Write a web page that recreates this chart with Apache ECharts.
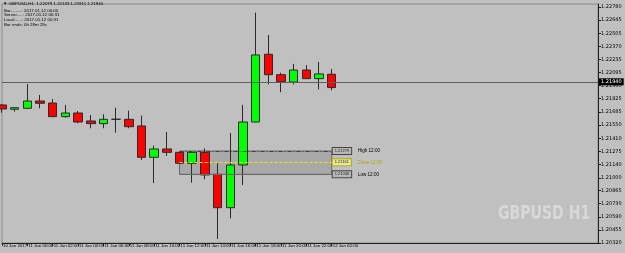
<!DOCTYPE html>
<html><head><meta charset="utf-8">
<script src="https://cdn.jsdelivr.net/npm/echarts@6/dist/echarts.min.js"></script>
<style>html,body{margin:0;padding:0;background:#c0c0c0}#c{width:625px;height:253px}</style>
</head><body><div id="c"></div>
<script>
// Hourly bar times (GBPUSD H1)
const barTimes = ['10 Jan 22:00','10 Jan 23:00','11 Jan 00:00','11 Jan 01:00','11 Jan 02:00','11 Jan 03:00','11 Jan 04:00','11 Jan 05:00','11 Jan 06:00','11 Jan 07:00','11 Jan 08:00','11 Jan 09:00','11 Jan 10:00','11 Jan 11:00','11 Jan 12:00','11 Jan 13:00','11 Jan 14:00','11 Jan 15:00','11 Jan 16:00','11 Jan 17:00','11 Jan 18:00','11 Jan 19:00','11 Jan 20:00','11 Jan 21:00','11 Jan 22:00','11 Jan 23:00','12 Jan 00:00'];
// OHLC
const opens  = [1.21759,1.21714,1.21724,1.21800,1.21779,1.21637,1.21675,1.21592,1.21564,1.21609,1.21609,1.21540,1.21213,1.21300,1.21265,1.21151,1.21265,1.21036,1.20688,1.21133,1.21581,1.22287,1.22074,1.21998,1.22123,1.22033,1.22079];
const highs  = [1.21769,1.21735,1.21977,1.21863,1.21821,1.21759,1.21696,1.21654,1.21662,1.21730,1.21699,1.21647,1.21334,1.21477,1.21269,1.21269,1.21305,1.21151,1.21467,1.21759,1.22721,1.22488,1.22095,1.22186,1.22175,1.22207,1.22133];
const lows   = [1.21678,1.21689,1.21720,1.21724,1.21633,1.21626,1.21568,1.21516,1.21516,1.21470,1.21516,1.21185,1.20945,1.21227,1.21147,1.20949,1.20984,1.20362,1.20577,1.20925,1.21578,1.21974,1.21891,1.21974,1.22030,1.21922,1.21911];
const closes = [1.21717,1.21730,1.21800,1.21776,1.21637,1.21675,1.21581,1.21564,1.21609,1.21610,1.21532,1.21213,1.21300,1.21265,1.21151,1.21265,1.21029,1.20688,1.21133,1.21581,1.22280,1.22074,1.22001,1.22123,1.22033,1.22082,1.21940];
// axis labels
const yTicks = [1.22780,1.22645,1.22505,1.22370,1.22235,1.22095,1.21960,1.21825,1.21685,1.21550,1.21410,1.21275,1.21140,1.21000,1.20865,1.20730,1.20590,1.20455,1.20320];
const xTickIdx  = [0,2,4,6,8,10,12,14,16,18,20,22,24,26];
const xTickText = ['10 Jan 2017','11 Jan 00:00','11 Jan 02:00','11 Jan 04:00','11 Jan 06:00','11 Jan 08:00','11 Jan 10:00','11 Jan 12:00','11 Jan 14:00','11 Jan 16:00','11 Jan 18:00','11 Jan 20:00','11 Jan 22:00','12 Jan 00:00'];
// price lines
const bidPrice = 1.21940;
const askPrice = 1.21974;
// 12:00 box levels
const boxHigh = 1.21279, boxClose = 1.21161, boxLow = 1.21036;
const boxFrom = 14, boxTo = 26.2;
const infoTitle = '\u25BC GBPUSD,H1  1.22079 1.22133 1.21911 1.21940';
const infoLines = ['Bar.........: 2017.01.12 00:00','Server.....: 2017.01.12 00:31','Local......: 2017.01.12 00:31','Bar ends: 0h 28m 29s'];

const totalSlots = 48;
const categories = barTimes.slice();
for (let i = barTimes.length; i < totalSlots; i++) categories.push('slot' + i);
const candleData = opens.map((o, i) => [o, closes[i], lows[i], highs[i]]);

const FONT = 'DejaVu Sans';
const SMALL = 'Liberation Sans';
const chart = echarts.init(document.getElementById('c'), null, {renderer: 'canvas'});
const showTick = (idx) => xTickIdx.indexOf(idx) >= 0;
const richBox = (bg, bd) => ({fontSize: 4, fontFamily: SMALL, color: '#222', backgroundColor: bg, borderColor: bd, borderWidth: 1, padding: [1, 2]});

chart.setOption({
  backgroundColor: '#c0c0c0',
  animation: false,
  grid: {left: 0, right: 27, top: 4, bottom: 10, show: true, borderColor: '#8a8a8a', borderWidth: 1, backgroundColor: 'transparent'},
  xAxis: {
    type: 'category', data: categories, boundaryGap: false,
    axisLine: {show: true, lineStyle: {color: '#202020', width: 1}},
    axisTick: {show: true, length: 3, interval: (i) => showTick(i), lineStyle: {color: '#202020'}},
    axisLabel: {show: true, interval: (i) => showTick(i), hideOverlap: false, showMinLabel: true, showMaxLabel: true, align: 'left', margin: 1, padding: [0, 0, 0, 1],
      fontSize: 4.4, color: '#000', fontFamily: SMALL,
      formatter: (v, i) => { const k = xTickIdx.indexOf(i); return k >= 0 ? xTickText[k] : ''; }},
    splitLine: {show: false}
  },
  yAxis: {
    type: 'value', position: 'right', min: 1.20320, max: 1.22811, scale: true,
    axisLine: {show: true, lineStyle: {color: '#202020', width: 1}},
    axisTick: {show: true, length: 3, inside: false, customValues: yTicks, lineStyle: {color: '#202020'}},
    axisLabel: {show: true, customValues: yTicks, margin: 3, fontSize: 5, color: '#000', fontFamily: FONT,
      formatter: (v) => v.toFixed(5)},
    splitLine: {show: false}
  },
  series: [{
    type: 'candlestick',
    data: candleData,
    barWidth: 9,
    clip: true,
    itemStyle: {color: '#00ff00', color0: '#ff0000', borderColor: '#2a2a2a', borderColor0: '#2a2a2a', borderColorDoji: '#2a2a2a', borderWidth: 1},
    markArea: {
      silent: true,
      itemStyle: {color: 'rgba(110,110,110,0.28)', borderColor: '#6a6a6a', borderWidth: 1},
      data: [[{coord: [boxFrom, boxHigh]}, {coord: [boxTo, boxLow]}]]
    },
    markLine: {
      silent: true, symbol: 'none', animation: false,
      data: [
        {yAxis: askPrice, lineStyle: {color: '#707070', width: 1, type: 'solid'}, label: {show: false}},
        {yAxis: bidPrice, lineStyle: {color: '#606060', width: 1, type: 'solid'},
          label: {show: true, position: 'end', distance: 1, formatter: bidPrice.toFixed(5), backgroundColor: '#000', color: '#fff', fontSize: 5, fontFamily: FONT, padding: [1, 2]}},
        [{coord: [boxFrom, boxHigh], lineStyle: {color: '#404040', width: 1, type: [4, 2, 1, 2]},
          label: {show: true, position: 'end', distance: 1,
            formatter: '{b|' + boxHigh.toFixed(5) + '}  {t|High 12:00}',
            rich: {b: richBox('#b8b8b8', '#444'), t: {fontSize: 4.6, fontFamily: SMALL, color: '#000'}}}},
         {coord: [boxTo, boxHigh]}],
        [{coord: [boxFrom, boxClose], lineStyle: {color: '#e8e800', width: 1, type: [3, 2]},
          label: {show: true, position: 'end', distance: 1,
            formatter: '{b|' + boxClose.toFixed(5) + '}  {t|Close 12:00}',
            rich: {b: richBox('#e6e6a0', '#b0b000'), t: {fontSize: 4.6, fontFamily: SMALL, color: '#a8a800'}}}},
         {coord: [boxTo, boxClose]}],
        [{coord: [boxFrom, boxLow], lineStyle: {color: '#6a6a6a', width: 1, type: 'solid'},
          label: {show: true, position: 'end', distance: 1,
            formatter: '{b|' + boxLow.toFixed(5) + '}  {t|Low 12:00}',
            rich: {b: richBox('#b8b8b8', '#444'), t: {fontSize: 4.6, fontFamily: SMALL, color: '#000'}}}},
         {coord: [boxTo, boxLow]}]
      ]
    }
  }],
  graphic: [
    {type: 'text', x: 3, y: 2, z: 10, style: {text: infoTitle, fontSize: 4.4, fill: '#000', fontFamily: SMALL}},
    {type: 'text', x: 4, y: 8, z: 10, style: {text: infoLines.join('\n'), fontSize: 4.4, lineHeight: 4.8, fill: '#000', fontFamily: SMALL}},
    {type: 'text', x: 498, y: 205, scaleX: 0.74, z: 1, style: {text: 'GBPUSD H1', fontSize: 19, fontWeight: 'bold', fill: '#d8d8d8', fontFamily: FONT}}
  ]
});
</script></body></html>
